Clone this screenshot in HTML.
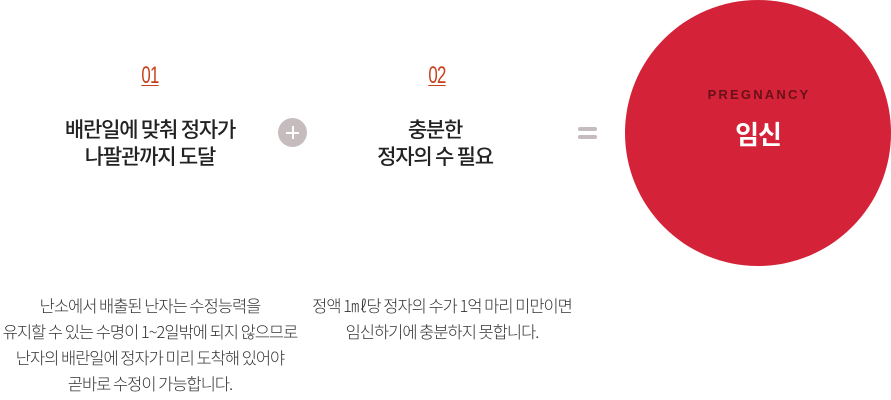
<!DOCTYPE html>
<html><head><meta charset="utf-8"><style>
body{margin:0;width:891px;height:400px;background:#fff;position:relative;overflow:hidden;font-family:"Liberation Sans","Noto Sans CJK KR",sans-serif;}
.c{position:absolute;text-align:center;white-space:nowrap;transform:translateX(-50%);}
.num{font-size:24px;color:#c8401c;text-decoration:underline;text-underline-offset:2px;text-decoration-thickness:1px;letter-spacing:-1px;transform:translateX(-50%) scaleX(0.7);}
.t{font-size:21px;color:#222;line-height:27px;letter-spacing:-1.2px;font-weight:500;font-family:"Noto Sans CJK KR",sans-serif;}
.b{font-size:16.5px;color:#333;line-height:26px;letter-spacing:-1px;font-weight:300;font-family:"Noto Sans CJK KR",sans-serif;}
</style></head><body>
<div class="c num" style="left:150px;top:62px;">01</div>
<div class="c num" style="left:437px;top:62px;">02</div>
<div class="c t" style="left:150px;top:116px;">배란일에 맞춰 정자가<br>나팔관까지 도달</div>
<div class="c t" style="left:435px;top:116px;">충분한<br>정자의 수 필요</div>
<div style="position:absolute;left:278px;top:118px;width:29px;height:29px;border-radius:50%;background:#c6bcbe;"></div>
<div style="position:absolute;left:286px;top:132px;width:13px;height:1.5px;background:#fff;"></div>
<div style="position:absolute;left:292px;top:126px;width:1.5px;height:13px;background:#fff;"></div>
<div style="position:absolute;left:578px;top:127px;width:19px;height:4px;border-radius:2px;background:#c6bcbe;"></div>
<div style="position:absolute;left:578px;top:135px;width:19px;height:4px;border-radius:2px;background:#c6bcbe;"></div>
<div style="position:absolute;left:625px;top:0;width:266px;height:266px;border-radius:50%;background:#d42338;"></div>
<div class="c" style="left:759px;top:87px;font-size:13px;font-weight:bold;letter-spacing:2.2px;color:#6a1018;">PREGNANCY</div>
<div class="c" style="left:758px;top:115px;font-size:26px;font-weight:bold;color:#fff;font-family:'Noto Sans CJK KR',sans-serif;letter-spacing:-1px;">임신</div>
<div class="c b" style="left:150px;top:292px;">난소에서 배출된 난자는 수정능력을<br>유지할 수 있는 수명이 1~2일밖에 되지 않으므로<br>난자의 배란일에 정자가 미리 도착해 있어야<br>곧바로 수정이 가능합니다.</div>
<div class="c b" style="left:442px;top:292px;">정액 1㎖당 정자의 수가 1억 마리 미만이면<br>임신하기에 충분하지 못합니다.</div>
</body></html>
